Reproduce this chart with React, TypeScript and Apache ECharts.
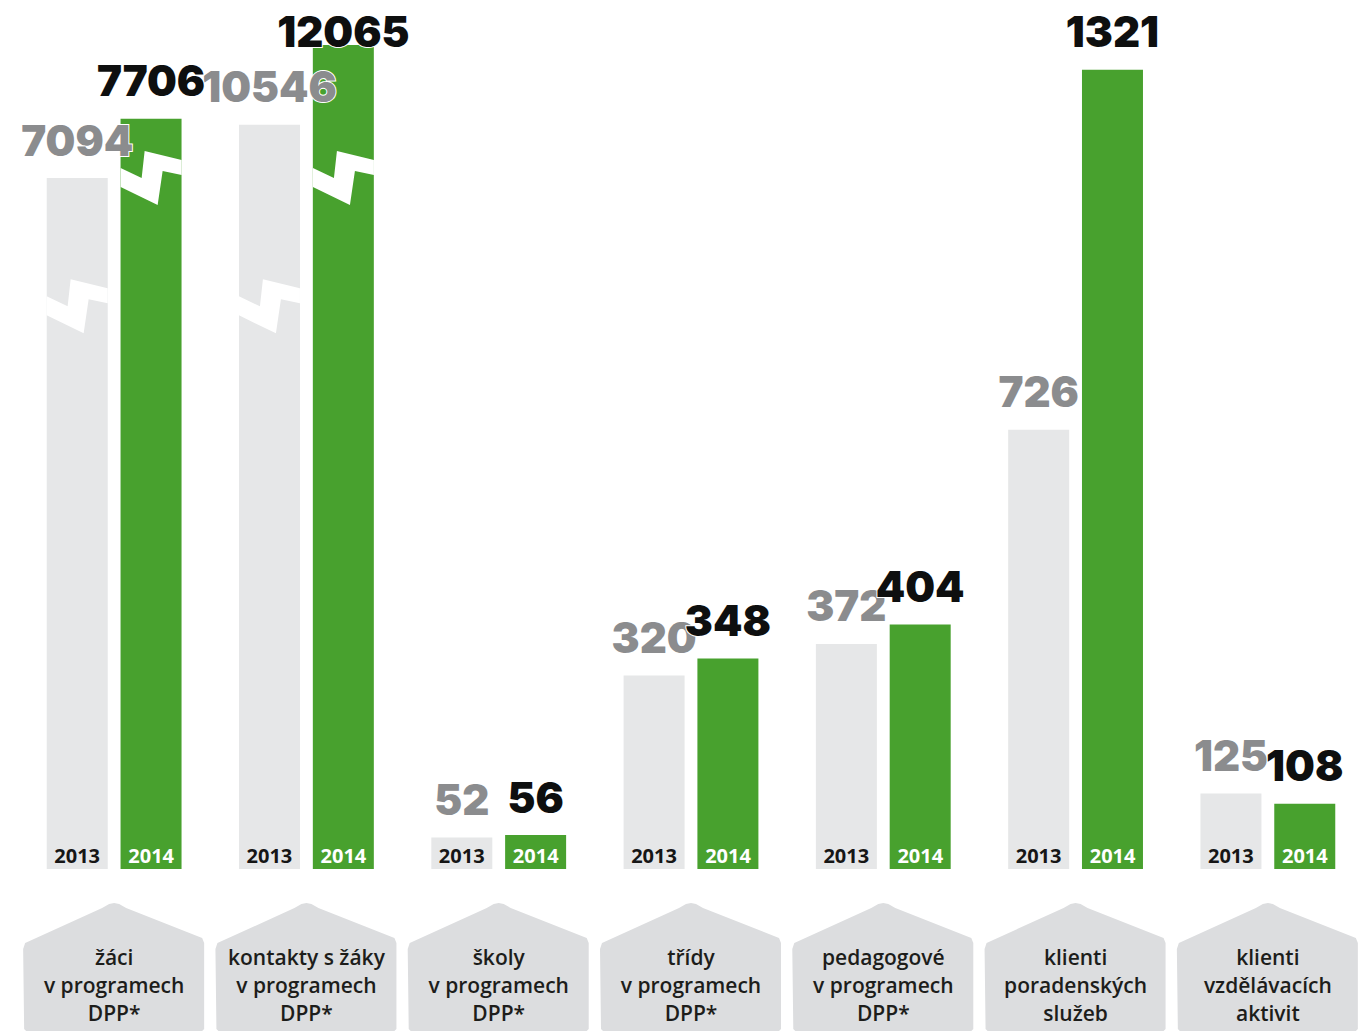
import React, { useEffect, useRef } from "react";
import * as echarts from "echarts";

// Category names (shown in the house-shaped boxes)
const categories = [
  "žáci\nv programech\nDPP*",
  "kontakty s žáky\nv programech\nDPP*",
  "školy\nv programech\nDPP*",
  "třídy\nv programech\nDPP*",
  "pedagogové\nv programech\nDPP*",
  "klienti\nporadenských\nslužeb",
  "klienti\nvzdělávacích\naktivit",
];
const years = ["2013", "2014"];

// Real values (printed as labels)
const values2013 = [7094, 10546, 52, 320, 372, 726, 125];
const values2014 = [7706, 12065, 56, 348, 404, 1321, 108];

// Heights drawn on the (broken) value axis – the first two groups are cut
const shown2013 = [1142, 1230, 52, 320, 372, 726, 125];
const shown2014 = [1240, 1362, 56, 348, 404, 1321, 108];

// Where the break marks sit on the value axis (null = no break)
const breaks2013: (number | null)[] = [930, 930, null, null, null, null, null];
const breaks2014: (number | null)[] = [1142, 1142, null, null, null, null, null];

const AXIS_MAX = 1400;

const GRAY = "#e6e7e8";
const GREEN = "#48a12e";
const BOX = "#dcdddf";
const BAR_W = 61;
const BAR_GAP = 13;

export default function App() {
  const ref = useRef<HTMLDivElement>(null);

  useEffect(() => {
    const chart = echarts.init(ref.current!, undefined, { renderer: "svg" });

    const valueLabel = (color: string) => ({
      show: true,
      position: "top",
      distance: 17,
      fontFamily: "Inter, Lato, 'DejaVu Sans', sans-serif",
      fontWeight: 900,
      fontSize: 42,
      color,
      textBorderColor: "#ffffff",
      textBorderWidth: 2,
      formatter: (p: any) => String(p.seriesIndex === 0 ? values2013[p.dataIndex] : values2014[p.dataIndex]),
    });

    const data2014 = shown2014.map((v, i) =>
      i === 1 ? { value: v, label: { distance: -8 } } : v
    );

    const breakData: number[][] = [];
    [breaks2013, breaks2014].forEach((arr, s) =>
      arr.forEach((b, i) => {
        if (b !== null) breakData.push([i, b, s]);
      })
    );

    const zig = [
      [0, -10], [21, 0], [24, -27], [61, -18],
      [61, -3], [42, -7], [37, 27], [0, 9],
    ];

    const option: any = {
      animation: false,
      backgroundColor: "#ffffff",
      grid: { left: 18, top: 22, width: 1353, height: 847, containLabel: false },
      xAxis: {
        type: "category",
        data: categories,
        axisLine: { show: false },
        axisTick: { show: false },
        axisLabel: { show: false },
        splitLine: { show: false },
      },
      yAxis: {
        type: "value",
        min: 0,
        max: AXIS_MAX,
        show: false,
        splitLine: { show: false },
      },
      series: [
        {
          name: years[0],
          type: "bar",
          data: shown2013,
          barWidth: BAR_W,
          barGap: "21%",
          itemStyle: { color: GRAY },
          label: valueLabel("#8b8c8e"),
          z: 2,
        },
        {
          name: years[1],
          type: "bar",
          data: data2014,
          barWidth: BAR_W,
          barGap: "21%",
          itemStyle: { color: GREEN },
          label: valueLabel("#0e0f0f"),
          z: 2,
        },
        {
          type: "custom",
          coordinateSystem: "cartesian2d",
          clip: false,
          silent: true,
          z: 3,
          data: breakData,
          renderItem: (params: any, api: any) => {
            const i = api.value(0);
            const v = api.value(1);
            const s = api.value(2);
            const pt = api.coord([i, v]);
            const left = pt[0] - (2 * BAR_W + BAR_GAP) / 2 + s * (BAR_W + BAR_GAP);
            return {
              type: "polygon",
              shape: { points: zig.map(([dx, dy]) => [left + dx, pt[1] + dy]) },
              style: { fill: "#ffffff" },
            };
          },
        },
        {
          type: "custom",
          coordinateSystem: "cartesian2d",
          clip: false,
          silent: true,
          z: 4,
          data: categories.map((c, i) => [i, 0]),
          renderItem: (params: any, api: any) => {
            const i = api.value(0);
            const pt = api.coord([i, 0]);
            const cx = pt[0];
            const base = pt[1];
            const half = (BAR_W + BAR_GAP) / 2;
            const box = [
              [-90, 160], [-91, 80], [-89, 74], [-12, 39], [-5, 35], [0, 34], [5, 35],
              [12, 39], [88, 69], [90, 74], [90, 160], [88, 162], [-88, 162],
            ].map(([dx, dy]) => [cx + dx, base + dy]);
            return {
              type: "group",
              children: [
                { type: "polygon", shape: { points: box }, style: { fill: BOX } },
                {
                  type: "text",
                  x: cx,
                  y: base + 116,
                  style: {
                    text: categories[i],
                    align: "center",
                    verticalAlign: "middle",
                    fontFamily: "'Open Sans', 'Noto Sans', sans-serif",
                    fontWeight: 600,
                    fontSize: 21,
                    lineHeight: 28,
                    fill: "#1d1d1b",
                  },
                },
                {
                  type: "text",
                  x: cx - half,
                  y: base - 14,
                  style: {
                    text: years[0],
                    align: "center",
                    verticalAlign: "middle",
                    fontFamily: "'Open Sans', 'Noto Sans', sans-serif",
                    fontWeight: 700,
                    fontSize: 20,
                    fill: "#161616",
                  },
                },
                {
                  type: "text",
                  x: cx + half,
                  y: base - 14,
                  style: {
                    text: years[1],
                    align: "center",
                    verticalAlign: "middle",
                    fontFamily: "'Open Sans', 'Noto Sans', sans-serif",
                    fontWeight: 700,
                    fontSize: 20,
                    fill: "#ffffff",
                  },
                },
              ],
            };
          },
        },
      ],
    };

    chart.setOption(option);
    return () => chart.dispose();
  }, []);

  return (
    <div
      ref={ref}
      style={{ position: "absolute", left: 0, top: 0, width: 1364, height: 1035 }}
    />
  );
}
